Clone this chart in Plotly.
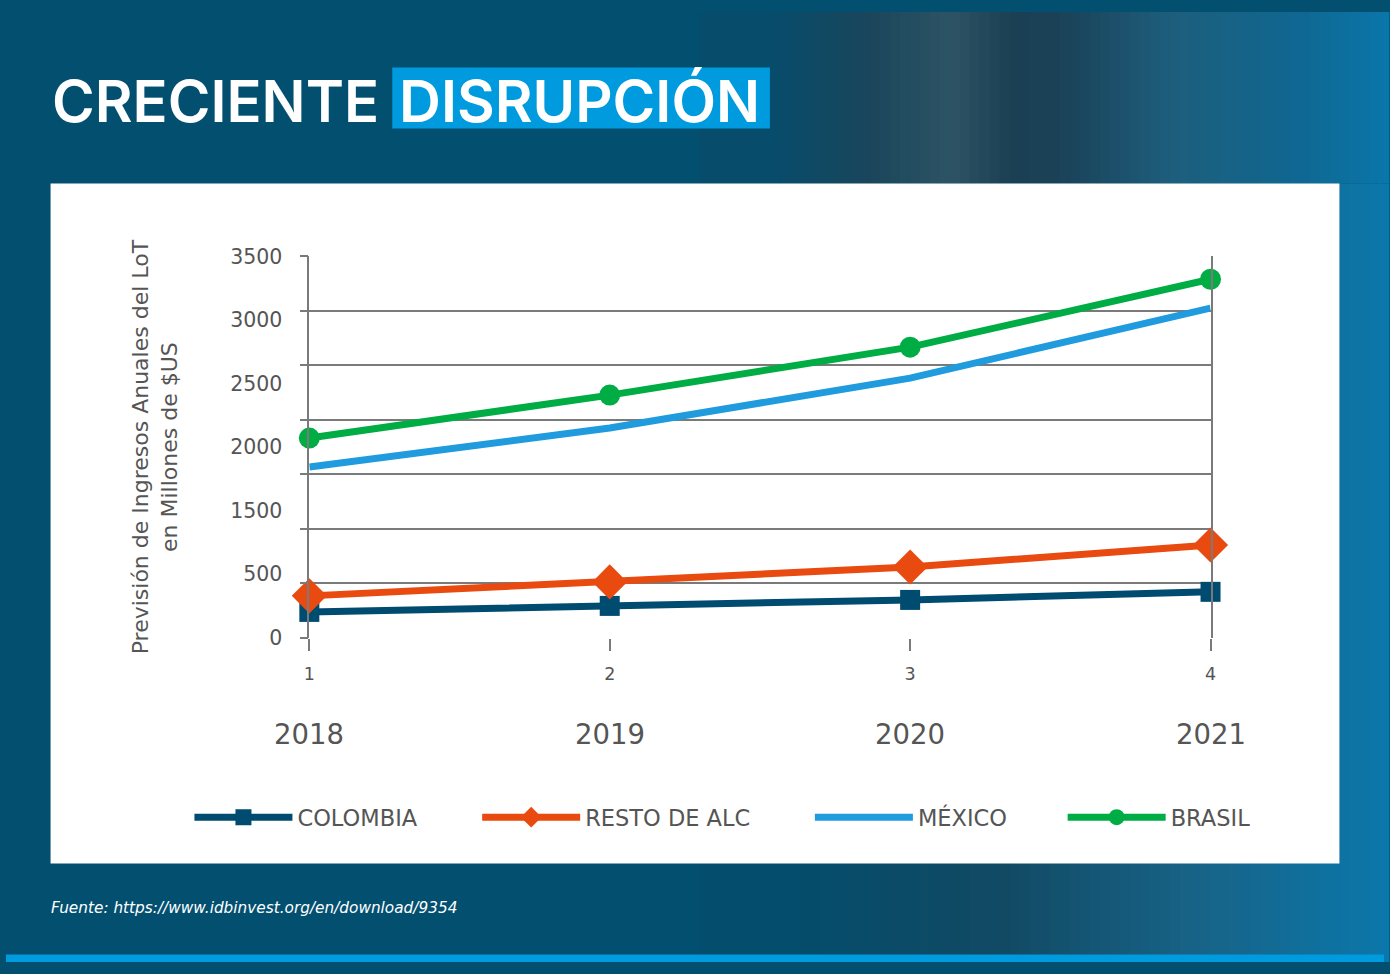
import plotly.graph_objects as go
import numpy as np

# ---- data ----
x_idx = [1, 2, 3, 4]
x_tick_labels = ["1", "2", "3", "4"]
years = ["2018", "2019", "2020", "2021"]
colombia = [238, 293, 348, 422]
resto_alc = [385, 513, 650, 852]
mexico = [1567, 1925, 2383, 3025]
brasil = [1833, 2227, 2667, 3290]
y_grid_vals = [0, 500, 1000, 1500, 2000, 2500, 3000, 3500]
y_tick_labels = ["0", "500", "1500", "2000", "2500", "3000", "3500"]
series_names = ["COLOMBIA", "RESTO DE ALC", "MÉXICO", "BRASIL"]

W, H = 1390, 974
# the photographed page appears slightly shrunk about its centre; place items accordingly
AX, BX = 0.99225, 5.4
AY, BY = 0.9767, 11.3
FONT = "DejaVu Sans"
TITLE_FONT = "Inter"
GREY = "#555555"
GRID = "#7a7a7a"


def fx(p):
    return (p - BX) / AX


def fy(p):
    return (p - BY) / AY


def px_x(p):
    return fx(p) / W


def px_y(p):
    return 1 - fy(p) / H


fig = go.Figure()

legend_keys = ["legend", "legend2", "legend3", "legend4"]
legend_starts = [195, 483, 816, 1069]
specs = [
    (colombia, "#004B70", "lines+markers", dict(symbol="square", size=20)),
    (resto_alc, "#E84A10", "lines+markers", dict(symbol="diamond", size=27)),
    (mexico, "#1F9BDE", "lines", None),
    (brasil, "#00AD45", "lines+markers", dict(symbol="circle", size=21)),
]
for (vals, color, mode, mk), name, lg in zip(specs, series_names, legend_keys):
    kw = dict(x=x_idx, y=vals, name=name, mode=mode, legend=lg,
              line=dict(color=color, width=7), cliponaxis=False)
    if mk:
        kw["marker"] = dict(color=color, **mk)
    fig.add_trace(go.Scatter(**kw))

fig.add_trace(go.Scatter(x=[x_idx[0]], y=[0], yaxis="y2", showlegend=False,
                         mode="markers", marker=dict(opacity=0), hoverinfo="skip"))

x_dom = [px_x(309), px_x(1211)]
y_dom = [px_y(638), px_y(256)]

legends = {}
for lg, start in zip(legend_keys, legend_starts):
    legends[lg] = dict(orientation="h", x=px_x(start - 6), xanchor="left", y=px_y(818),
                       yanchor="middle", font=dict(size=22.5, color=GREY, family=FONT),
                       bgcolor="rgba(0,0,0,0)", itemwidth=98)

fig.update_layout(
    width=W, height=H,
    margin=dict(l=0, r=0, t=0, b=0),
    paper_bgcolor="#034F70",
    plot_bgcolor="white",
    font=dict(family=FONT, color=GREY),
    xaxis=dict(domain=x_dom, range=[1, 4], tickvals=x_idx, ticktext=x_tick_labels,
               showgrid=False, zeroline=False, showline=False,
               ticks="outside", ticklen=12, tickcolor=GRID, tickwidth=1.5,
               tickfont=dict(size=17.5, color=GREY, family=FONT), ticklabelstandoff=8),
    yaxis=dict(domain=y_dom, range=[0, 3500], tickvals=y_grid_vals,
               showticklabels=False, showgrid=True, gridcolor=GRID, gridwidth=1.5,
               zeroline=False, showline=True, linecolor=GRID, linewidth=1.5, mirror=True,
               ticks="outside", ticklen=8, tickcolor=GRID, tickwidth=1.5),
    yaxis2=dict(overlaying="y", anchor="x", side="left", range=[0, 3500],
                tickvals=list(np.linspace(0, 3500, len(y_tick_labels))),
                ticktext=y_tick_labels, showgrid=False, zeroline=False, showline=False,
                ticks="", tickfont=dict(size=20.5, color=GREY, family=FONT),
                ticklabelstandoff=26,
                title=dict(text="Previsión de Ingresos Anuales del LoT<br>en Millones de $US",
                           font=dict(size=22, color=GREY, family=FONT), standoff=46)),
    showlegend=True,
    **legends,
)


def rgb_at(xm, stops):
    sx = [s[0] for s in stops]
    c = [int(np.interp(xm, sx, [s[1][k] for s in stops])) for k in range(3)]
    return f"rgb({c[0]},{c[1]},{c[2]})"


# decorative background gradients
top_stops = [(0, (3, 79, 112)), (780, (8, 76, 106)), (870, (26, 70, 92)), (950, (46, 84, 101)),
             (1010, (28, 64, 84)), (1060, (27, 66, 88)), (1170, (30, 94, 124)),
             (1300, (16, 104, 146)), (1390, (10, 119, 170))]
low_stops = [(0, (3, 79, 112)), (800, (5, 77, 108)), (1000, (18, 74, 100)),
             (1200, (24, 100, 136)), (1390, (11, 120, 171))]
shapes = []
bands = 70
xs = np.linspace(700, 1400, bands + 1)
for i in range(bands):
    xm = (xs[i] + xs[i + 1]) / 2
    x0, x1 = px_x(xs[i]), min(px_x(xs[i + 1]) + 0.001, 1.0)
    shapes.append(dict(type="rect", xref="paper", yref="paper", x0=x0, x1=x1,
                       y0=px_y(183), y1=1, fillcolor=rgb_at(xm, top_stops),
                       line_width=0, layer="below"))
    shapes.append(dict(type="rect", xref="paper", yref="paper", x0=x0, x1=x1,
                       y0=0, y1=px_y(183), fillcolor=rgb_at(xm, low_stops),
                       line_width=0, layer="below"))

shapes += [
    dict(type="rect", xref="paper", yref="paper", x0=px_x(50), x1=px_x(1340),
         y0=px_y(864), y1=px_y(183), fillcolor="white", line_width=0, layer="below"),
    dict(type="rect", xref="paper", yref="paper", x0=px_x(392), x1=px_x(770),
         y0=px_y(128), y1=px_y(67), fillcolor="#009ADE", line_width=0, layer="below"),
    dict(type="rect", xref="paper", yref="paper", x0=0, x1=1, y0=0, y1=px_y(955),
         fillcolor="#009ADE", line_width=0, layer="below"),
]
fig.update_layout(shapes=shapes)

ann = [
    dict(text="CRECIENTE", x=px_x(49), y=px_y(100), xref="paper", yref="paper",
         xanchor="left", yanchor="middle", showarrow=False,
         font=dict(size=58, color="white", family=TITLE_FONT, weight=600)),
    dict(text="DISRUPCIÓN", x=px_x(397), y=px_y(100), xref="paper", yref="paper",
         xanchor="left", yanchor="middle", showarrow=False,
         font=dict(size=58, color="white", family=TITLE_FONT, weight=600)),
    dict(text="<i>Fuente: https://www.idbinvest.org/en/download/9354</i>", x=px_x(48),
         y=px_y(909), xref="paper", yref="paper", xanchor="left", yanchor="middle",
         showarrow=False, font=dict(size=15.3, color="white", family=FONT)),
]
for xv, yr in zip(x_idx, years):
    ann.append(dict(text=yr, x=xv, xref="x", y=px_y(734), yref="paper",
                    xanchor="center", yanchor="middle", showarrow=False,
                    font=dict(size=27.5, color=GREY, family=FONT)))
fig.update_layout(annotations=ann)

post = (
    "document.documentElement.style.margin='0';"
    "document.body.style.margin='0';document.body.style.padding='0';"
    "document.body.style.background='linear-gradient(to bottom, rgba(0,0,0,0) 0px, "
    "rgba(0,0,0,0) 955px, #009ADE 955px), linear-gradient(to right, #034F70 0px, "
    "#034F70 780px, #1A465C 870px, #2E5465 950px, #1C4054 1010px, #1E5E7C 1170px, "
    "#10688F 1300px, #0A77AA 1390px)';"
)
fig.write_html("out.html", config={"displayModeBar": False}, post_script=post)
